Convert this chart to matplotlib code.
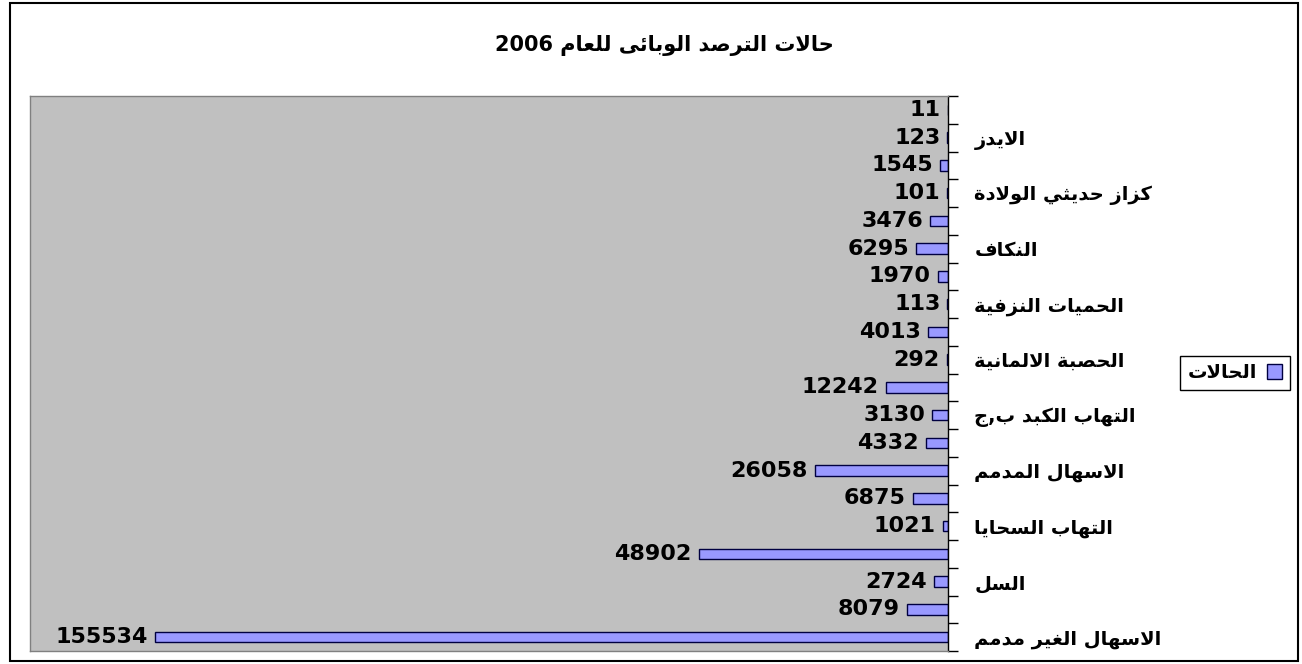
import re
import matplotlib
matplotlib.use('Agg')
import matplotlib.pyplot as plt
from matplotlib.patches import Rectangle, Patch

# ---------------- data ----------------
title = "حالات الترصد الوبائى للعام 2006"
series_name = "الحالات"
# bottom -> top ; only every other category name is visible in the chart
categories = ["الاسهال الغير مدمم", "", "السل", "", "التهاب السحايا", "",
              "الاسهال المدمم", "", "التهاب الكبد ب,ج", "", "الحصبة الالمانية", "",
              "الحميات النزفية", "", "النكاف", "", "كزاز حديثي الولادة", "",
              "الايدز", ""]
values = [155534, 8079, 2724, 48902, 1021, 6875, 26058, 4332, 3130, 12242,
          292, 4013, 113, 1970, 6295, 3476, 101, 1545, 123, 11]

# ---------------- minimal Arabic shaping (presentation forms) ----------------
DUAL = {'\u0626': 0xFE89, '\u0628': 0xFE8F, '\u062A': 0xFE95, '\u062B': 0xFE99,
        '\u062C': 0xFE9D, '\u062D': 0xFEA1, '\u062E': 0xFEA5, '\u0633': 0xFEB1,
        '\u0634': 0xFEB5, '\u0635': 0xFEB9, '\u0636': 0xFEBD, '\u0637': 0xFEC1,
        '\u0638': 0xFEC5, '\u0639': 0xFEC9, '\u063A': 0xFECD, '\u0641': 0xFED1,
        '\u0642': 0xFED5, '\u0643': 0xFED9, '\u0644': 0xFEDD, '\u0645': 0xFEE1,
        '\u0646': 0xFEE5, '\u0647': 0xFEE9, '\u064A': 0xFEF1}
RIGHT = {'\u0622': 0xFE81, '\u0623': 0xFE83, '\u0624': 0xFE85, '\u0625': 0xFE87,
         '\u0627': 0xFE8D, '\u0629': 0xFE93, '\u062F': 0xFEA9, '\u0630': 0xFEAB,
         '\u0631': 0xFEAD, '\u0632': 0xFEAF, '\u0648': 0xFEED, '\u0649': 0xFEEF}
LAM_ALEF = {'\u0627': (0xFEFB, 0xFEFC), '\u0623': (0xFEF7, 0xFEF8),
            '\u0625': (0xFEF9, 0xFEFA), '\u0622': (0xFEF5, 0xFEF6)}


def _joins(c):
    return c in DUAL or c in RIGHT


def shape(text):
    out = []
    i, n = 0, len(text)
    while i < n:
        c = text[i]
        prev = text[i - 1] if i > 0 else ''
        cprev = prev in DUAL and _joins(c)
        if c == '\u0644' and i + 1 < n and text[i + 1] in LAM_ALEF:
            iso, fin = LAM_ALEF[text[i + 1]]
            out.append(chr(fin if cprev else iso))
            i += 2
            continue
        nxt = text[i + 1] if i + 1 < n else ''
        if c in DUAL:
            cnext = _joins(nxt)
            form = 3 if (cprev and cnext) else 1 if cprev else 2 if cnext else 0
            out.append(chr(DUAL[c] + form))
        elif c in RIGHT:
            out.append(chr(RIGHT[c] + (1 if cprev else 0)))
        else:
            out.append(c)
        i += 1
    return ''.join(out)


def ar(text):
    s = shape(text)[::-1]
    return re.sub(r'[0-9A-Za-z]+', lambda m: m.group(0)[::-1], s)


# ---------------- figure ----------------
plt.rcParams['font.family'] = ['DejaVu Sans']
W, H = 1302, 664
fig = plt.figure(figsize=(W / 100, H / 100), dpi=100)
fig.patch.set_facecolor('white')

# outer chart border
fig.add_artist(Rectangle((10 / W, 1 - 661 / H), (1298 - 10) / W, (661 - 3) / H,
                         transform=fig.transFigure, fill=False,
                         edgecolor='black', linewidth=1.5))

ax = fig.add_axes([30 / W, 1 - 651 / H, (948 - 30) / W, (651 - 96) / H])
ax.set_facecolor('#C0C0C0')

y = list(range(len(values)))
ax.barh(y, values, height=0.37, color='#9999FF', edgecolor='#000040',
        linewidth=1.0, zorder=2)

ax.set_xlim(180000, 0)
ax.set_ylim(-0.5, len(values) - 0.5)
ax.set_xticks([])

for yi, v in zip(y, values):
    ax.annotate(str(v), xy=(v, yi), xytext=(-7, 0), textcoords='offset pixels',
                ha='right', va='center', fontsize=16, fontweight='bold',
                color='black', zorder=3)

ax.yaxis.tick_right()
ax.set_yticks(y)
ax.set_yticklabels([ar(c) if c else '' for c in categories],
                   fontsize=14, fontweight='bold')
ax.tick_params(axis='y', which='major', length=0, pad=19)
ax.set_yticks([k - 0.5 for k in range(len(values) + 1)], minor=True)
ax.tick_params(axis='y', which='minor', length=7, width=1, color='black',
               direction='out')

for s in ('left', 'bottom', 'top'):
    ax.spines[s].set_color('#808080')
    ax.spines[s].set_linewidth(1)
ax.spines['right'].set_color('black')
ax.spines['right'].set_linewidth(1)

fig.text(664 / W, 1 - 45 / H, ar(title), ha='center', va='center',
         fontsize=15, fontweight='bold')

leg = ax.legend(handles=[Patch(facecolor='#9999FF', edgecolor='#000040')],
                labels=[ar(series_name)], markerfirst=False, fancybox=False,
                edgecolor='black', framealpha=1, loc='center left',
                bbox_to_anchor=(1180 / W, 1 - 373 / H),
                bbox_transform=fig.transFigure, handlelength=0.8,
                handleheight=0.8, borderpad=0.4, handletextpad=0.5,
                borderaxespad=0, prop={'size': 14, 'weight': 'bold'})
leg.get_frame().set_linewidth(1.0)

fig.savefig('out.png', dpi=100, facecolor='white')
